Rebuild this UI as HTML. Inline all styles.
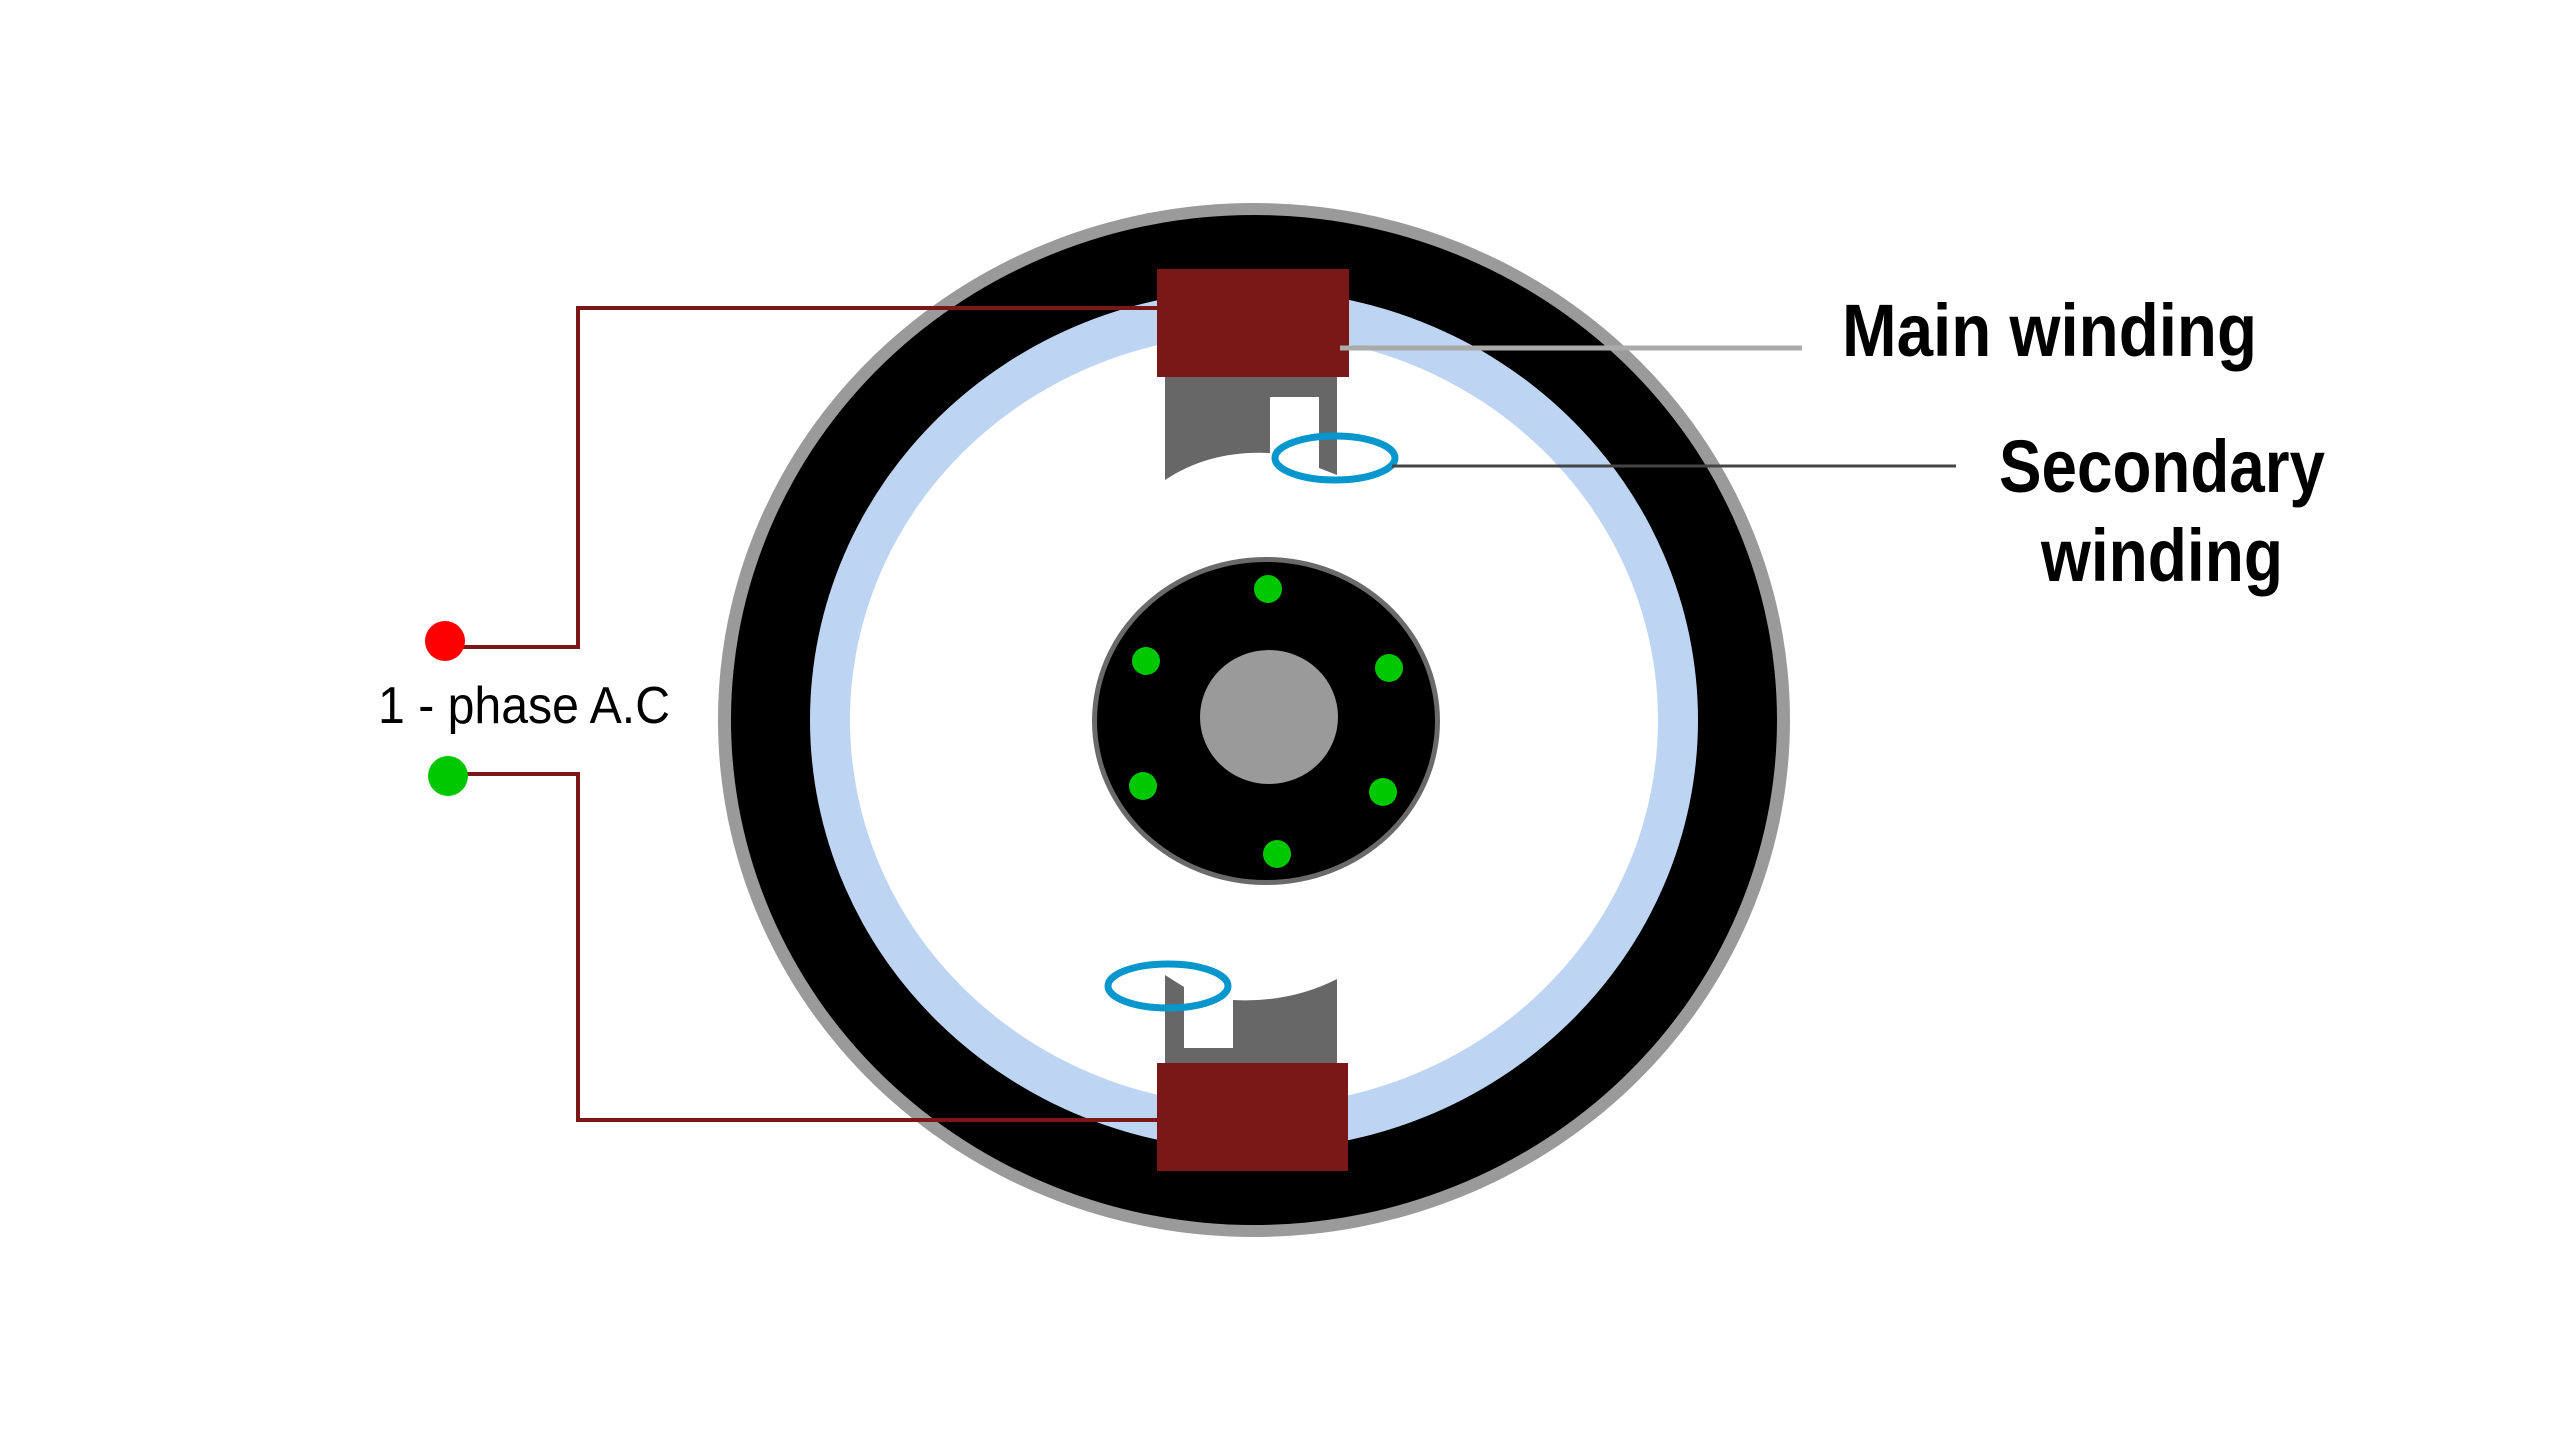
<!DOCTYPE html>
<html><head><meta charset="utf-8"><style>html,body{margin:0;padding:0;background:#fff}svg{display:block}</style></head>
<body>
<svg width="2560" height="1440" viewBox="0 0 2560 1440" xmlns="http://www.w3.org/2000/svg">
<rect width="2560" height="1440" fill="#fff"/>
<!-- stator -->
<ellipse cx="1254" cy="720" rx="536" ry="517" fill="#9a9a9a"/>
<ellipse cx="1254" cy="720" rx="523" ry="505" fill="#000"/>
<ellipse cx="1254" cy="720" rx="444" ry="430" fill="#bed4f3"/>
<ellipse cx="1254" cy="720" rx="404" ry="386" fill="#fff"/>
<!-- rotor -->
<ellipse cx="1266" cy="721" rx="174" ry="164" fill="#6a6a6a"/>
<ellipse cx="1266" cy="721" rx="169" ry="159" fill="#000"/>
<ellipse cx="1269" cy="717" rx="69" ry="67" fill="#9a9a9a"/>
<g fill="#00c800">
<circle cx="1268" cy="589" r="14"/><circle cx="1146" cy="661" r="14"/><circle cx="1389" cy="668" r="14"/>
<circle cx="1143" cy="786" r="14"/><circle cx="1383" cy="792" r="14"/><circle cx="1277" cy="854" r="14"/>
</g>
<!-- top pole -->
<path d="M1165 377 H1337 V475 L1319 468 V397 H1270 V453 Q1210 450 1165 480 Z" fill="#676767"/>
<!-- bottom pole -->
<path d="M1165 1063 H1337 V979 Q1290 1003 1233 1000 V1048 H1184 V987 L1165 975 Z" fill="#676767"/>
<!-- wires -->
<g stroke="#7a1818" stroke-width="4" fill="none">
<polyline points="1160,308 578,308 578,647 460,647"/>
<polyline points="460,774 578,774 578,1120 1160,1120"/>
</g>
<!-- main coils -->
<rect x="1157" y="269" width="192" height="108" fill="#7a1818"/>
<rect x="1157" y="1063" width="191" height="108" fill="#7a1818"/>
<!-- secondary coils -->
<ellipse cx="1335" cy="458" rx="60" ry="22" fill="none" stroke="#0797cc" stroke-width="7"/>
<ellipse cx="1168" cy="986" rx="60" ry="22" fill="none" stroke="#0797cc" stroke-width="7"/>
<!-- leader lines -->
<line x1="1340" y1="348" x2="1802" y2="348" stroke="#aaa" stroke-width="5"/>
<line x1="1392" y1="466" x2="1956" y2="466" stroke="#444" stroke-width="3"/>
<!-- terminals -->
<circle cx="445" cy="641" r="20" fill="#ff0000"/>
<circle cx="448" cy="776" r="20" fill="#00c800"/>
<g font-family="Liberation Sans, sans-serif" fill="#000">
<text x="378" y="723" font-size="52" textLength="292" lengthAdjust="spacingAndGlyphs">1 - phase A.C</text>
<g font-weight="bold" font-size="74">
<text x="1842" y="356" textLength="415" lengthAdjust="spacingAndGlyphs">Main winding</text>
<text x="1999" y="492" textLength="326" lengthAdjust="spacingAndGlyphs">Secondary</text>
<text x="2041" y="581" textLength="242" lengthAdjust="spacingAndGlyphs">winding</text>
</g>
</g>
</svg>
</body></html>
